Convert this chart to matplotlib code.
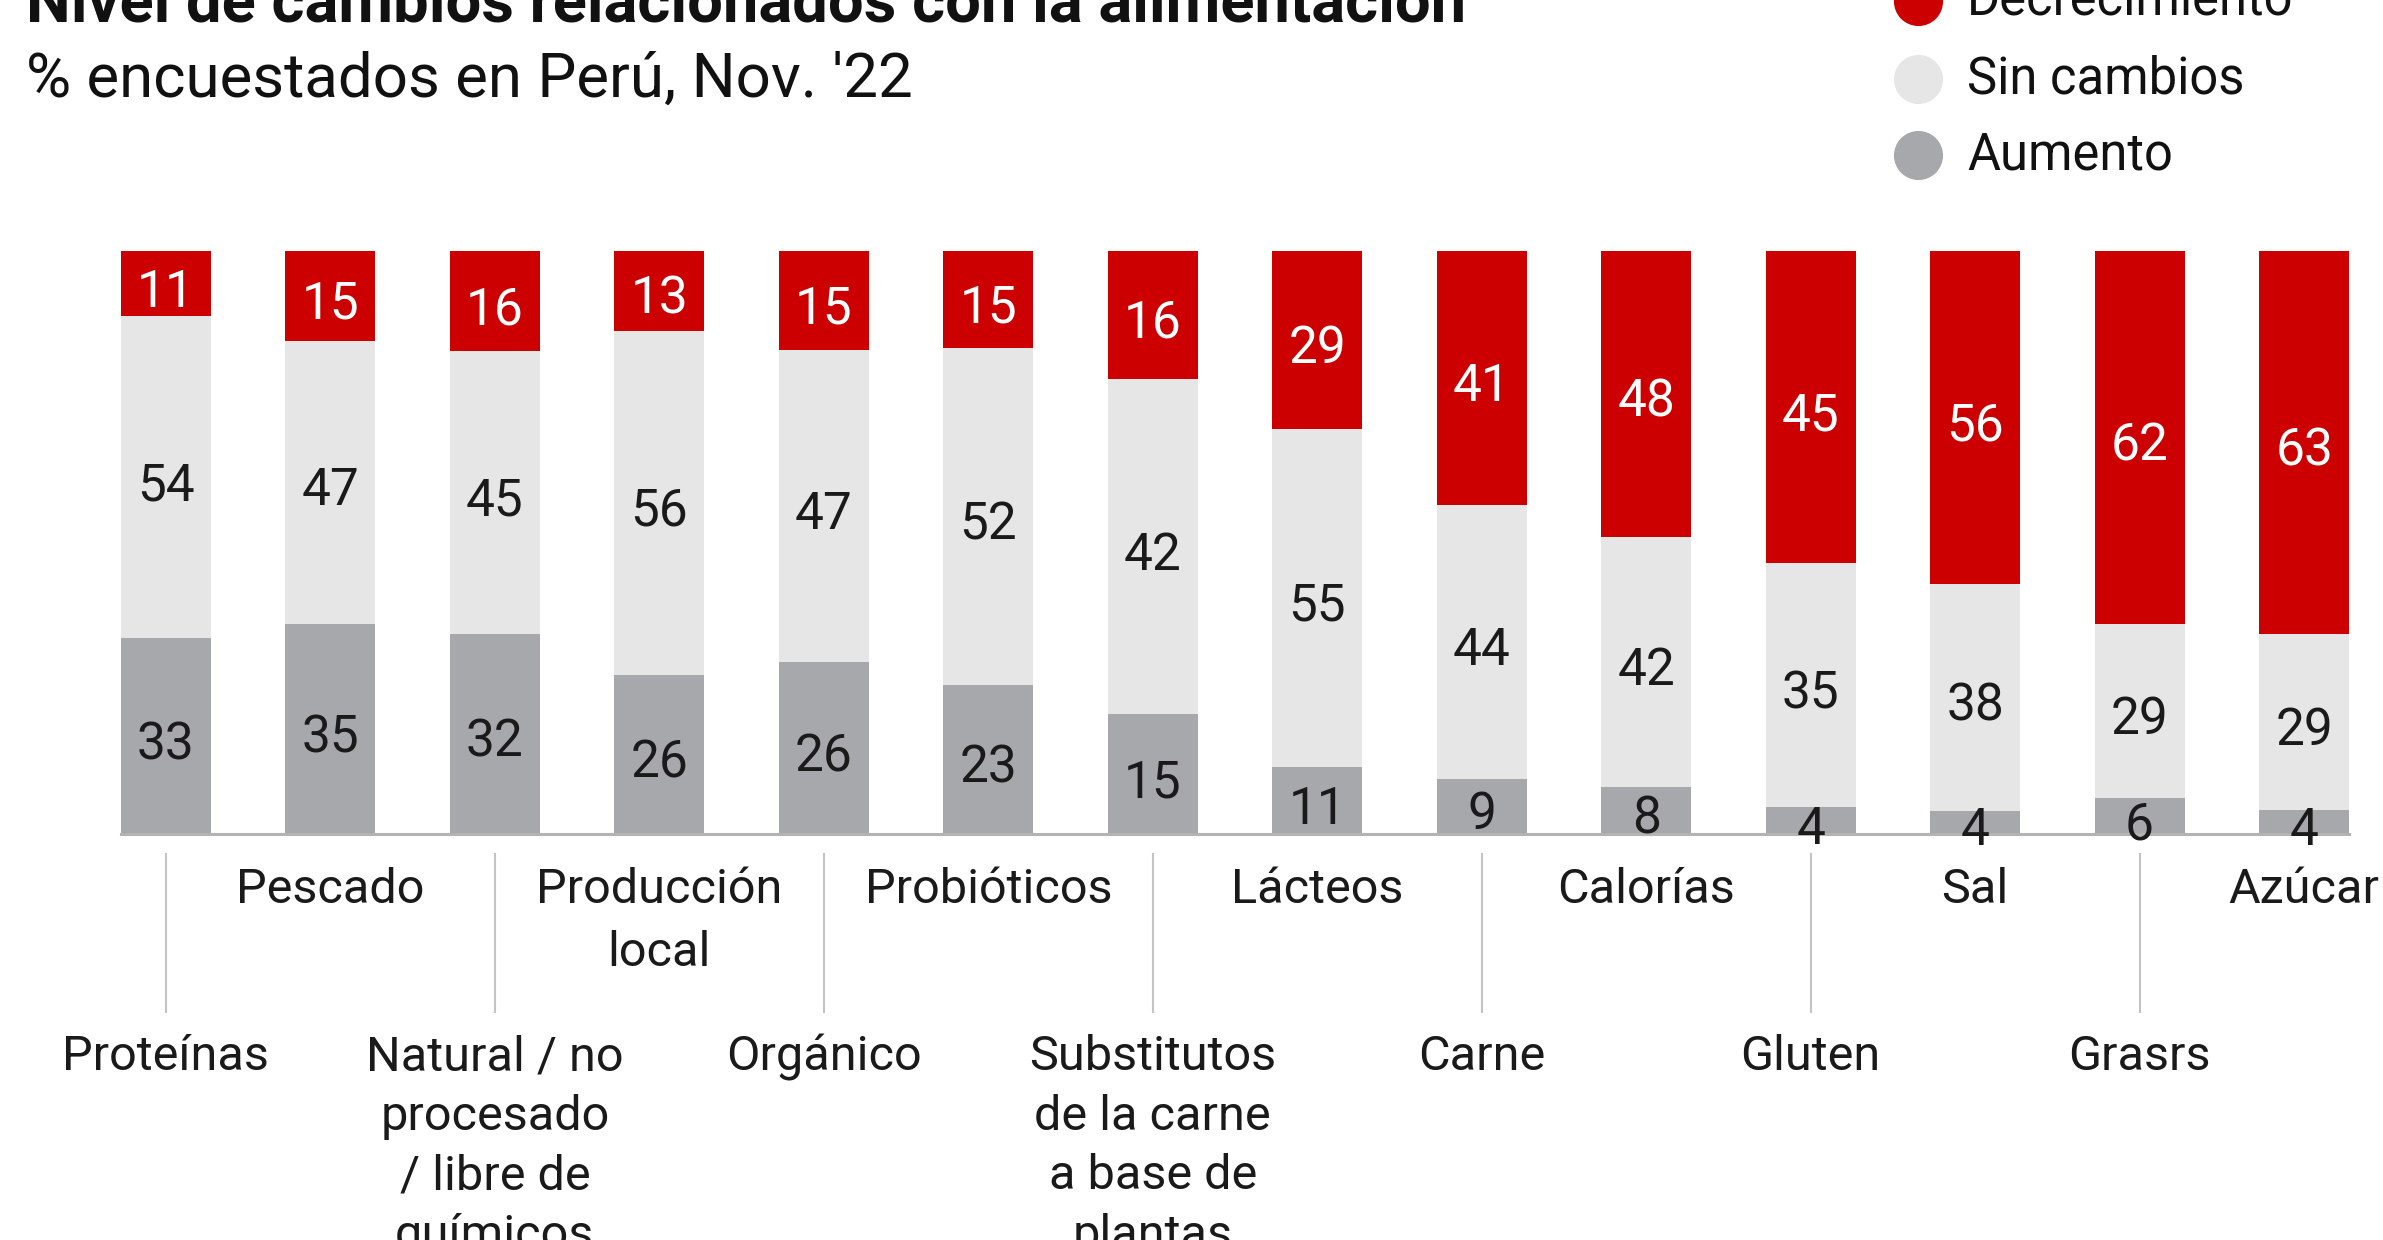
import matplotlib
matplotlib.use("Agg")
import matplotlib.pyplot as plt
import matplotlib.transforms as mtransforms
import numpy as np

plt.rcParams['font.family'] = ['Roboto', 'DejaVu Sans']

categories = ["Proteínas", "Pescado", "Natural / no\nprocesado\n/ libre de\nquímicos",
              "Producción\nlocal", "Orgánico", "Probióticos",
              "Substitutos\nde la carne\na base de\nplantas", "Lácteos", "Carne",
              "Calorías", "Gluten", "Sal", "Grasrs", "Azúcar"]
decrecimiento = [11, 15, 16, 13, 15, 15, 16, 29, 41, 48, 45, 56, 62, 63]
sin_cambios = [54, 47, 45, 56, 47, 52, 42, 55, 44, 42, 35, 38, 29, 29]
aumento = [33, 35, 32, 26, 26, 23, 15, 11, 9, 8, 4, 4, 6, 4]
series_names = ["Decrecimiento", "Sin cambios", "Aumento"]

RED = "#CC0000"
LIGHT = "#E6E6E6"
DARK = "#A7A8AC"

W, H = 2383, 1240
fig = plt.figure(figsize=(W / 100, H / 100), dpi=100)

# overlay in pixel coords (y down)
ov = fig.add_axes([0, 0, 1, 1])
ov.set_xlim(0, W)
ov.set_ylim(H, 0)
ov.axis("off")

ax = fig.add_axes([121 / W, 1 - 834.4 / H, (2349 - 121) / W, (834.4 - 250.8) / H])
ax.axis("off")

n = len(categories)
x = np.arange(n)
bw = 0.546
dec = np.array(decrecimiento, float)
sc = np.array(sin_cambios, float)
au = np.array(aumento, float)
tot = dec + sc + au
f_au, f_sc, f_dec = au / tot, sc / tot, dec / tot

ax.bar(x, f_au, bw, color=DARK, linewidth=0)
ax.bar(x, f_sc, bw, bottom=f_au, color=LIGHT, linewidth=0)
ax.bar(x, f_dec, bw, bottom=f_au + f_sc, color=RED, linewidth=0)
ax.set_xlim(-bw / 2, n - 1 + bw / 2)
ax.set_ylim(0, 1)
ax.axhline(0, color="#B3B3B3", linewidth=2.2, clip_on=False)

lab_fs = 37
# small downward nudge (pixels) of the value labels
off = mtransforms.offset_copy(ax.transData, fig=fig, x=0, y=-9, units="dots")
for i in range(n):
    ax.text(x[i], f_au[i] / 2, str(aumento[i]), ha="center", va="center",
            fontsize=lab_fs, color="#1a1a1a", transform=off)
    ax.text(x[i], f_au[i] + f_sc[i] / 2, str(sin_cambios[i]), ha="center", va="center",
            fontsize=lab_fs, color="#1a1a1a", transform=off)
    ax.text(x[i], f_au[i] + f_sc[i] + f_dec[i] / 2, str(decrecimiento[i]), ha="center",
            va="center", fontsize=lab_fs, color="white", transform=off)

# category labels
tr = mtransforms.blended_transform_factory(ax.transData, ov.transData)
cat_fs = 35
for i in range(n):
    if i % 2 == 1:
        ov.text(x[i], 867, categories[i], transform=tr, ha="center", va="top",
                fontsize=cat_fs, color="#1a1a1a", linespacing=1.47, clip_on=False)
    else:
        ov.plot([x[i], x[i]], [854, 1012], transform=tr, color="#C4C4C4", linewidth=1.5)
        ov.text(x[i], 1034, categories[i], transform=tr, ha="center", va="top",
                fontsize=cat_fs, color="#1a1a1a", linespacing=1.38, clip_on=False)

# titles
ov.text(26, 21, "Nivel de cambios relacionados con la alimentación", fontsize=45.5,
        fontweight="bold", ha="left", va="baseline", color="#111111")
ov.text(26, 97, "% encuestados en Perú, Nov. '22", fontsize=44.5, ha="left",
        va="baseline", color="#111111")

# legend
leg_colors = [RED, LIGHT, DARK]
leg_y = [1, 79, 155]
for c, yy, nm in zip(leg_colors, leg_y, series_names):
    ov.scatter([1918], [yy], s=1250, color=c, linewidths=0, clip_on=False)
    ov.text(1967, yy, nm, fontsize=36.5, ha="left", va="center", color="#111111")

fig.savefig("out.png", dpi=100)
